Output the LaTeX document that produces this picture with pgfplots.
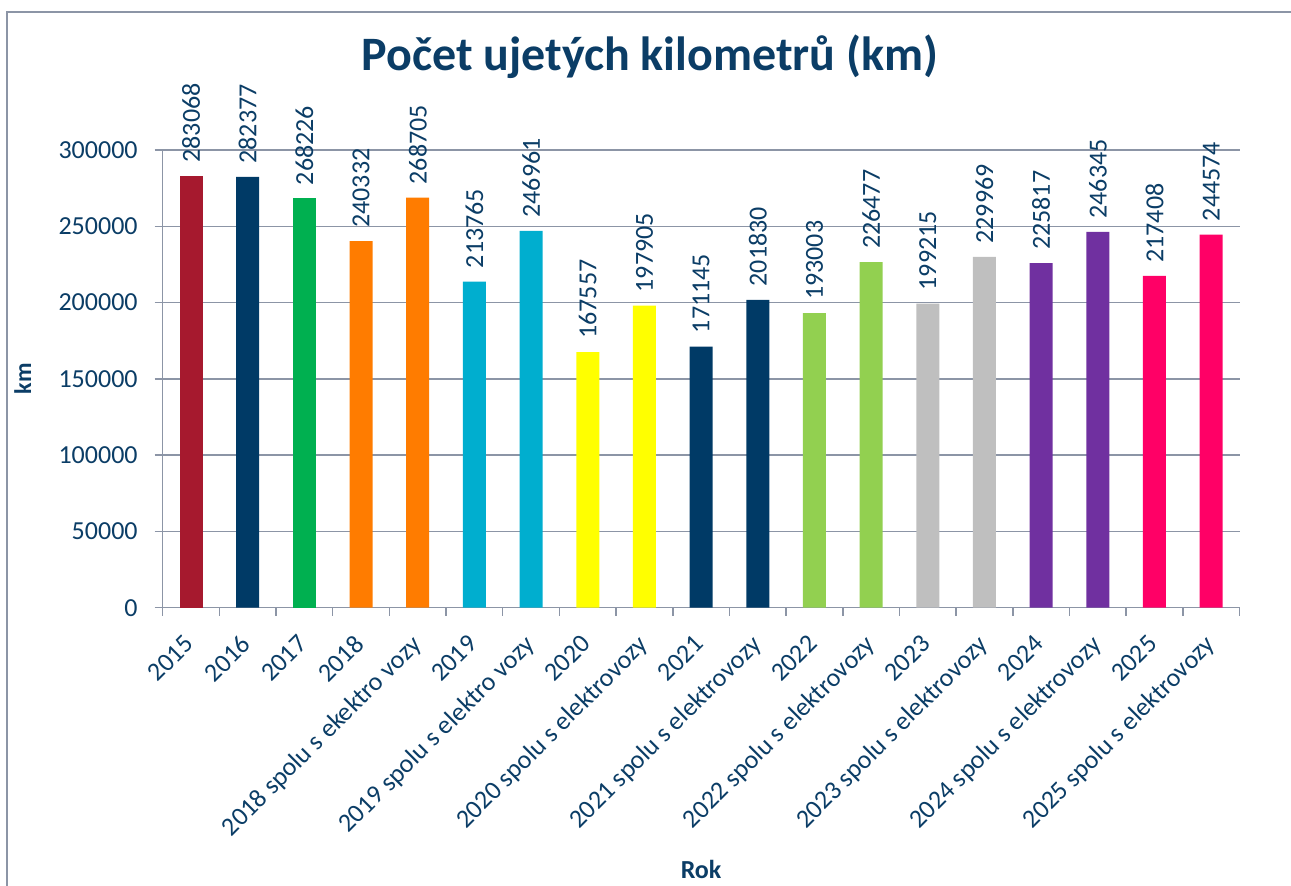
\documentclass[border=0pt]{standalone}
\usepackage{fontspec}
\setmainfont{Carlito}
\usepackage{pgfplots}
\pgfplotsset{compat=1.18}
\definecolor{cRed}{HTML}{A6192E}
\definecolor{cNavy}{HTML}{003A66}
\definecolor{cGreen}{HTML}{00B050}
\definecolor{cOrange}{HTML}{FF7C00}
\definecolor{cCyan}{HTML}{00AECF}
\definecolor{cYellow}{HTML}{FFFF00}
\definecolor{cLime}{HTML}{92D050}
\definecolor{cGray}{HTML}{BFBFBF}
\definecolor{cPurple}{HTML}{7030A0}
\definecolor{cPink}{HTML}{FF0066}
\definecolor{txt}{HTML}{0B3D66}
\definecolor{gridc}{HTML}{8C95A6}
\begin{document}
\begin{tikzpicture}
\useasboundingbox (0,0) rectangle (645.5pt,443pt);
\begin{axis}[
  at={(81.35pt,139.15pt)}, anchor=south west,
  scale only axis, width=538.4pt, height=228.85pt,
  ybar, bar width=11.5pt, bar shift=0pt,
  clip=false,
  xmin=-0.5, xmax=18.5, ymin=0, ymax=300000,
  axis lines*=left,
  axis line style={gridc, line width=0.75pt},
  ytick={0,50000,100000,150000,200000,250000,300000},
  yticklabels={0,50000,100000,150000,200000,250000,300000},
  yticklabel style={xshift=-5pt},
  scaled y ticks=false,
  ymajorgrids, grid style={gridc, line width=0.75pt},
  tick align=outside,
  major tick length=4pt,
  tick style={gridc, line width=0.75pt},
  xtick={-0.5,0.5,...,18.5},
  xticklabel={\mbox{}},
  extra x ticks={0,1,...,18},
  extra x tick labels={2015,2016,2017,2018,2018 spolu s ekektro vozy,2019,2019 spolu s elektro vozy,2020,2020 spolu s elektrovozy,2021,2021 spolu s elektrovozy,2022,2022 spolu s elektrovozy,2023,2023 spolu s elektrovozy,2024,2024 spolu s elektrovozy,2025,2025 spolu s elektrovozy},
  extra x tick style={major tick length=0pt, xticklabel style={xshift=-4pt, yshift=-8pt, rotate=45, anchor=north east}},
  tick label style={font=\fontsize{13}{15}\selectfont, text=txt},
  point meta=explicit symbolic,
  nodes near coords,
  every node near coord/.append style={font=\fontsize{13}{15}\selectfont, text=txt, rotate=90, anchor=west, inner xsep=6.5pt, inner ysep=0pt},
  title={\textbf{Počet ujetých kilometrů (km)}},
  title style={at={(axis description cs:0.4526,1)}, anchor=base, yshift=33.75pt, font=\fontsize{24}{28}\selectfont, text=txt},
  xlabel={\textbf{Rok}},
  xlabel style={at={(axis description cs:0.5,0)}, anchor=base, yshift=-135.65pt, font=\fontsize{13}{15}\selectfont, text=txt},
  ylabel={\textbf{km}},
  ylabel style={at={(axis description cs:-0.13,0.5)}, anchor=center, font=\fontsize{12}{14}\selectfont, text=txt},
]
\addplot[fill=cRed, draw=none] coordinates {(0,283068) [283068]};
\addplot[fill=cNavy, draw=none] coordinates {(1,282377) [282377] (9,171145) [171145] (10,201830) [201830]};
\addplot[fill=cGreen, draw=none] coordinates {(2,268226) [268226]};
\addplot[fill=cOrange, draw=none] coordinates {(3,240332) [240332] (4,268705) [268705]};
\addplot[fill=cCyan, draw=none] coordinates {(5,213765) [213765] (6,246961) [246961]};
\addplot[fill=cYellow, draw=none] coordinates {(7,167557) [167557] (8,197905) [197905]};
\addplot[fill=cLime, draw=none] coordinates {(11,193003) [193003] (12,226477) [226477]};
\addplot[fill=cGray, draw=none] coordinates {(13,199215) [199215] (14,229969) [229969]};
\addplot[fill=cPurple, draw=none] coordinates {(15,225817) [225817] (16,246345) [246345]};
\addplot[fill=cPink, draw=none] coordinates {(17,217408) [217408] (18,244574) [244574]};
\end{axis}
\draw[gridc, line width=0.75pt] (3.5pt,0pt) -- (3.5pt,437pt) -- (645.5pt,437pt);
\end{tikzpicture}
\end{document}
